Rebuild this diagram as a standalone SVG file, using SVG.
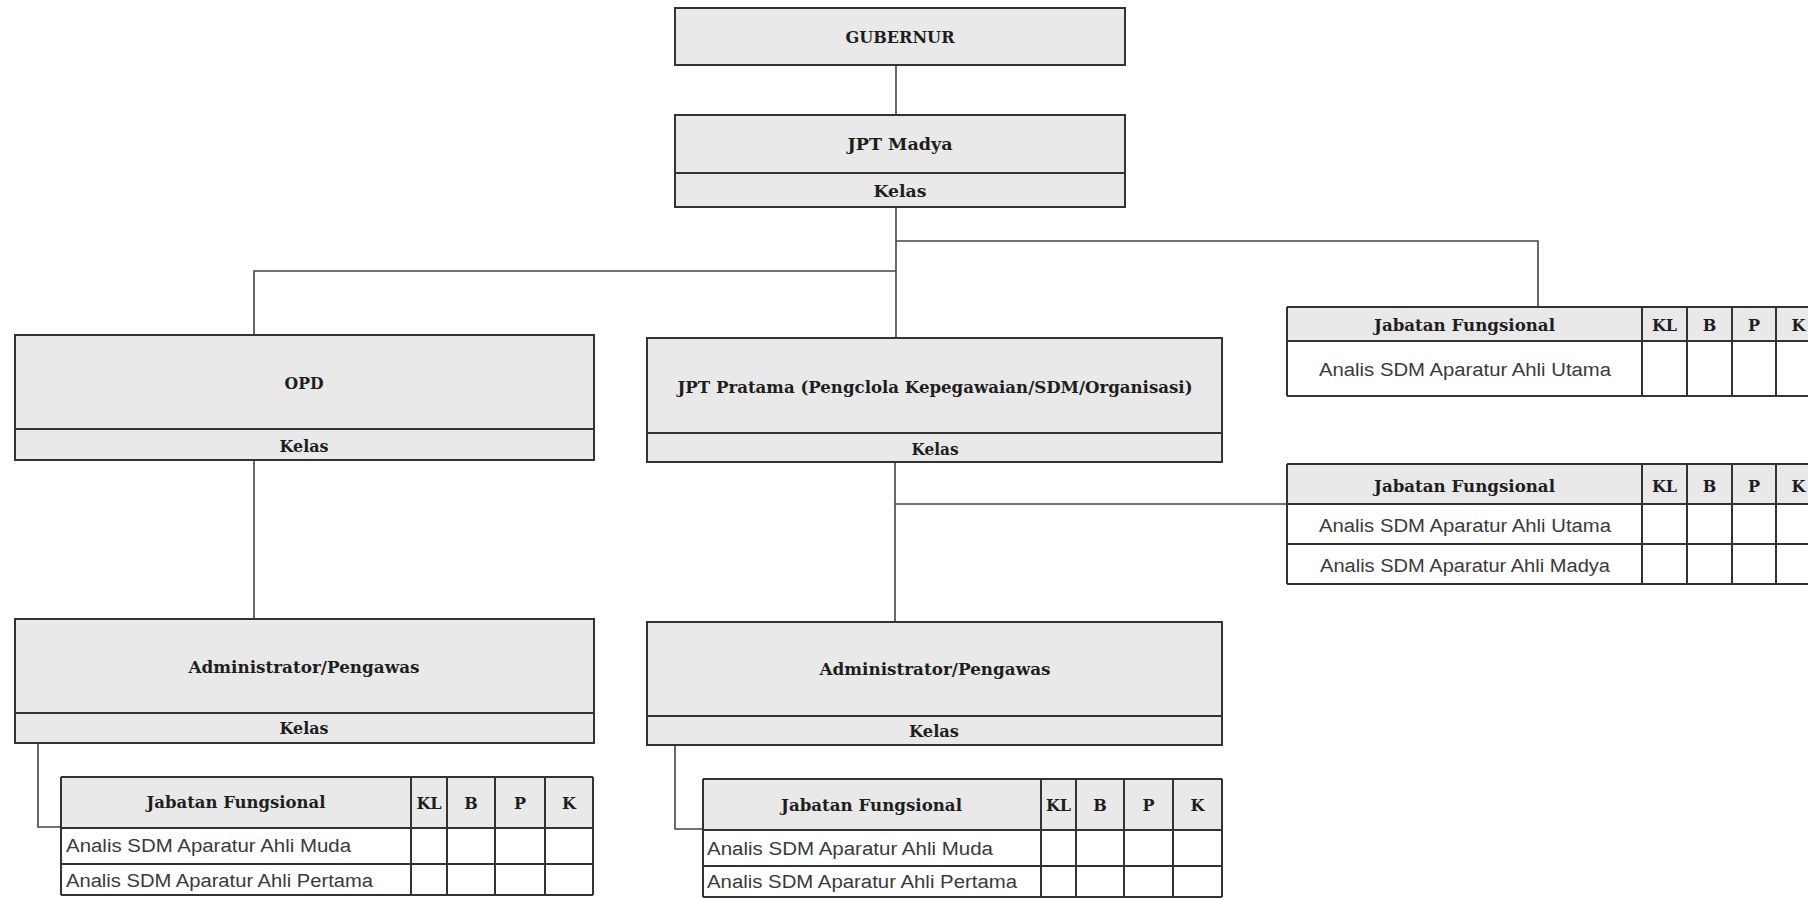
<svg xmlns="http://www.w3.org/2000/svg" width="1808" height="898" viewBox="0 0 1808 898">
<style>
.box{fill:#e9e9e9;stroke:#333;stroke-width:2}
.hdr{fill:#e9e9e9;stroke:none}
.cell{fill:#fff;stroke:none}
.ln{stroke:#333;stroke-width:2;fill:none}
.con{stroke:#444;stroke-width:1.6;fill:none}
.b{font-family:"DejaVu Serif","Liberation Serif",serif;font-weight:bold;font-size:16px;fill:#1e1e1e;text-anchor:middle}
.t{font-family:"Liberation Sans","DejaVu Sans",sans-serif;font-size:18px;fill:#3a3a3a}
.c{text-anchor:middle}
</style>
<rect width="1808" height="898" fill="#fff"/>

<g id="connectors">
<path class="con" d="M896 65V115"/>
<path class="con" d="M896 207V338"/>
<path class="con" d="M896 241H1538V307"/>
<path class="con" d="M896 271H254V335"/>
<path class="con" d="M895 462V622"/>
<path class="con" d="M895 504H1287"/>
<path class="con" d="M254 460V619"/>
<path class="con" d="M38 743V827H61"/>
<path class="con" d="M675 745V829H703"/>
</g>

<g id="gubernur">
<rect class="box" x="675" y="8" width="450" height="57"/>
<text class="b" x="900" y="43" textLength="109" lengthAdjust="spacingAndGlyphs">GUBERNUR</text>
</g>

<g id="jpt-madya">
<rect class="box" x="675" y="115" width="450" height="92"/>
<path class="ln" d="M675 173H1125"/>
<text class="b" x="900" y="150" textLength="105" lengthAdjust="spacingAndGlyphs">JPT Madya</text>
<text class="b" x="900" y="197" textLength="53" lengthAdjust="spacingAndGlyphs">Kelas</text>
</g>

<g id="opd">
<rect class="box" x="15" y="335" width="579" height="125"/>
<path class="ln" d="M15 429H594"/>
<text class="b" x="304" y="389" textLength="39" lengthAdjust="spacingAndGlyphs">OPD</text>
<text class="b" x="304" y="452" textLength="49" lengthAdjust="spacingAndGlyphs">Kelas</text>
</g>

<g id="jpt-pratama">
<rect class="box" x="647" y="338" width="575" height="124"/>
<path class="ln" d="M647 433H1222"/>
<text class="b" x="935" y="393" textLength="515" lengthAdjust="spacingAndGlyphs">JPT Pratama (Pengclola Kepegawaian/SDM/Organisasi)</text>
<text class="b" x="935" y="455" textLength="47" lengthAdjust="spacingAndGlyphs">Kelas</text>
</g>

<g id="admin-1">
<rect class="box" x="15" y="619" width="579" height="124"/>
<path class="ln" d="M15 713H594"/>
<text class="b" x="304" y="673" textLength="231" lengthAdjust="spacingAndGlyphs">Administrator/Pengawas</text>
<text class="b" x="304" y="734" textLength="49" lengthAdjust="spacingAndGlyphs">Kelas</text>
</g>

<g id="admin-2">
<rect class="box" x="647" y="622" width="575" height="123"/>
<path class="ln" d="M647 716H1222"/>
<text class="b" x="935" y="675" textLength="231" lengthAdjust="spacingAndGlyphs">Administrator/Pengawas</text>
<text class="b" x="934" y="737" textLength="50" lengthAdjust="spacingAndGlyphs">Kelas</text>
</g>

<g id="jf-table-1">
<rect class="hdr" x="1287" y="307" width="534" height="34"/>
<rect class="cell" x="1287" y="341" width="534" height="55"/>
<path class="ln" d="M1287 307H1821M1287 341H1821M1287 396H1821M1287 307V396M1642 307V396M1687 307V396M1732 307V396M1776 307V396"/>
<text class="b" x="1464.5" y="331" textLength="181" lengthAdjust="spacingAndGlyphs">Jabatan Fungsional</text>
<text class="b" x="1664.5" y="331">KL</text>
<text class="b" x="1709.5" y="331">B</text>
<text class="b" x="1754" y="331">P</text>
<text class="b" x="1798.5" y="331">K</text>
<text class="t c" x="1465" y="376" textLength="292" lengthAdjust="spacingAndGlyphs">Analis SDM Aparatur Ahli Utama</text>
</g>

<g id="jf-table-2">
<rect class="hdr" x="1287" y="464" width="534" height="40"/>
<rect class="cell" x="1287" y="504" width="534" height="80"/>
<path class="ln" d="M1287 464H1821M1287 504H1821M1287 544H1821M1287 584H1821M1287 464V584M1642 464V584M1687 464V584M1732 464V584M1776 464V584"/>
<text class="b" x="1464.5" y="492" textLength="181" lengthAdjust="spacingAndGlyphs">Jabatan Fungsional</text>
<text class="b" x="1664.5" y="492">KL</text>
<text class="b" x="1709.5" y="492">B</text>
<text class="b" x="1754" y="492">P</text>
<text class="b" x="1798.5" y="492">K</text>
<text class="t c" x="1465" y="532" textLength="292" lengthAdjust="spacingAndGlyphs">Analis SDM Aparatur Ahli Utama</text>
<text class="t c" x="1465" y="572" textLength="290" lengthAdjust="spacingAndGlyphs">Analis SDM Aparatur Ahli Madya</text>
</g>

<g id="jf-table-3">
<rect class="hdr" x="61" y="777" width="532" height="51"/>
<rect class="cell" x="61" y="828" width="532" height="67"/>
<path class="ln" d="M61 777H593M61 828H593M61 864H593M61 895H593M61 777V895M411 777V895M447 777V895M495 777V895M545 777V895M593 777V895"/>
<text class="b" x="236" y="808" textLength="179" lengthAdjust="spacingAndGlyphs">Jabatan Fungsional</text>
<text class="b" x="429" y="809">KL</text>
<text class="b" x="471" y="809">B</text>
<text class="b" x="520" y="809">P</text>
<text class="b" x="569" y="809">K</text>
<text class="t" x="66" y="852" textLength="285" lengthAdjust="spacingAndGlyphs">Analis SDM Aparatur Ahli Muda</text>
<text class="t" x="66" y="887" textLength="307" lengthAdjust="spacingAndGlyphs">Analis SDM Aparatur Ahli Pertama</text>
</g>

<g id="jf-table-4">
<rect class="hdr" x="703" y="779" width="519" height="51"/>
<rect class="cell" x="703" y="830" width="519" height="67"/>
<path class="ln" d="M703 779H1222M703 830H1222M703 866H1222M703 897H1222M703 779V897M1041 779V897M1076 779V897M1124 779V897M1173 779V897M1222 779V897"/>
<text class="b" x="871.5" y="811" textLength="181" lengthAdjust="spacingAndGlyphs">Jabatan Fungsional</text>
<text class="b" x="1058.5" y="811">KL</text>
<text class="b" x="1100" y="811">B</text>
<text class="b" x="1148.5" y="811">P</text>
<text class="b" x="1197.5" y="811">K</text>
<text class="t" x="707" y="855" textLength="286" lengthAdjust="spacingAndGlyphs">Analis SDM Aparatur Ahli Muda</text>
<text class="t" x="707" y="888" textLength="310" lengthAdjust="spacingAndGlyphs">Analis SDM Aparatur Ahli Pertama</text>
</g>
</svg>
